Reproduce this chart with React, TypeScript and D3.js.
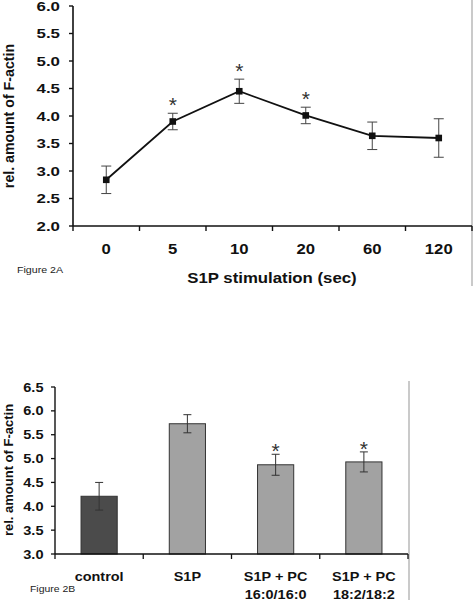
import React from "react";
import * as d3 from "d3";

// Figure 2A data
const timeLabels = ["0", "5", "10", "20", "60", "120"];
const actinMeans = [2.84, 3.9, 4.45, 4.01, 3.64, 3.6];
const actinErrors = [0.25, 0.15, 0.22, 0.15, 0.25, 0.35];
const timeSignificant = [false, true, true, true, false, false];
const yTicksA = [2.0, 2.5, 3.0, 3.5, 4.0, 4.5, 5.0, 5.5, 6.0];

// Figure 2B data
const groupLabels = [["control"], ["S1P"], ["S1P + PC", "16:0/16:0"], ["S1P + PC", "18:2/18:2"]];
const groupMeans = [4.21, 5.73, 4.87, 4.93];
const groupErrors = [0.29, 0.19, 0.22, 0.21];
const groupColors = ["#4b4b4b", "#a2a2a2", "#a2a2a2", "#a2a2a2"];
const groupSignificant = [false, false, true, true];
const yTicksB = [3.0, 3.5, 4.0, 4.5, 5.0, 5.5, 6.0, 6.5];

const FONT = "'Liberation Sans', Arial, Helvetica, sans-serif";

type TProps = {
  x: number;
  y: number;
  sx?: number;
  anchor?: "start" | "middle" | "end";
  size: number;
  bold?: boolean;
  fill?: string;
  dy?: string;
  children: React.ReactNode;
};

function T({ x, y, sx = 1, anchor = "start", size, bold = false, fill = "#111", dy, children }: TProps) {
  return (
    <text
      transform={`translate(${x},${y}) scale(${sx},1)`}
      textAnchor={anchor}
      fontSize={size}
      fontWeight={bold ? "bold" : "normal"}
      fill={fill}
      dy={dy}
    >
      {children}
    </text>
  );
}

export default function App() {
  // ---- Chart A scales ----
  const xA = d3.scaleBand<string>().domain(timeLabels).range([73, 472]);
  const yA = d3.scaleLinear().domain([2, 6]).range([226, 6]);
  const pts = actinMeans.map((v, i) => [xA(timeLabels[i])! + xA.bandwidth() / 2, yA(v)] as [number, number]);
  const lineGen = d3.line();

  // ---- Chart B scales ----
  const keysB = groupLabels.map((g) => g.join(" "));
  const xB = d3.scaleBand<string>().domain(keysB).range([55, 408]).paddingInner(0.59).paddingOuter(0.295);
  const yB = d3.scaleLinear().domain([3, 6.5]).range([554, 387]);
  const bandB = d3.scaleBand<string>().domain(keysB).range([55, 408]);

  const tickFmt = d3.format(".1f");

  return (
    <svg width={473} height={600} style={{ position: "absolute", left: 0, top: 0, background: "#fff" }} fontFamily={FONT}>
      <rect x={0} y={0} width={473} height={600} fill="#fff" />
      {/* ===== Figure 2A ===== */}
      <line x1={472} x2={472} y1={0} y2={286} stroke="#b8b8b8" strokeWidth={1.5} />
      {/* y axis */}
      <line x1={73} x2={73} y1={yA(6)} y2={yA(2)} stroke="#111" strokeWidth={1.6} />
      {yTicksA.map((t) => (
        <g key={"ya" + t}>
          <line x1={69} x2={73} y1={yA(t)} y2={yA(t)} stroke="#111" strokeWidth={1.4} />
          <T x={60} y={yA(t)} dy="0.36em" anchor="end" size={13.5} sx={1.25} bold>
            {tickFmt(t)}
          </T>
        </g>
      ))}
      {/* x axis */}
      <line x1={73} x2={472} y1={yA(2)} y2={yA(2)} stroke="#111" strokeWidth={1.6} />
      {xA.domain().map((d) => (
        <line key={"xta" + d} x1={xA(d)!} x2={xA(d)!} y1={yA(2)} y2={yA(2) + 5} stroke="#111" strokeWidth={1.4} />
      ))}
      <line x1={472} x2={472} y1={yA(2)} y2={yA(2) + 5} stroke="#111" strokeWidth={1.4} />
      {timeLabels.map((d) => (
        <T key={"xla" + d} x={xA(d)! + xA.bandwidth() / 2} y={254} anchor="middle" size={14.5} sx={1.15} bold>
          {d}
        </T>
      ))}
      <T x={272} y={283} anchor="middle" size={15} sx={1.12} bold>
        S1P stimulation (sec)
      </T>
      <T x={17} y={273} size={9.5} sx={1.12} fill="#222">
        Figure 2A
      </T>
      <text transform={`translate(14,116) rotate(-90)`} textAnchor="middle" fontSize={14.2} fontWeight="bold" fill="#111">
        rel. amount of F-actin
      </text>
      {/* error bars */}
      {actinMeans.map((v, i) => {
        const cx = pts[i][0];
        const top = yA(v + actinErrors[i]);
        const bot = yA(v - actinErrors[i]);
        return (
          <g key={"eba" + i} stroke="#444" strokeWidth={1}>
            <line x1={cx} x2={cx} y1={top} y2={bot} />
            <line x1={cx - 5} x2={cx + 5} y1={top} y2={top} />
            <line x1={cx - 5} x2={cx + 5} y1={bot} y2={bot} />
          </g>
        );
      })}
      <path d={lineGen(pts) || ""} fill="none" stroke="#111" strokeWidth={1.8} />
      {pts.map((p, i) => (
        <rect key={"mk" + i} x={p[0] - 3.3} y={p[1] - 3.3} width={6.6} height={6.6} fill="#111" />
      ))}
      {actinMeans.map((v, i) =>
        timeSignificant[i] ? (
          <text key={"sa" + i} x={pts[i][0]} y={yA(v + actinErrors[i]) - 1} textAnchor="middle" fontSize={21} fill="#333">
            *
          </text>
        ) : null
      )}

      {/* ===== Figure 2B ===== */}
      <line x1={409} x2={409} y1={381} y2={600} stroke="#b8b8b8" strokeWidth={1.5} />
      <line x1={55} x2={55} y1={yB(6.5)} y2={yB(3)} stroke="#111" strokeWidth={1.4} />
      {yTicksB.map((t) => (
        <g key={"yb" + t}>
          <line x1={51} x2={55} y1={yB(t)} y2={yB(t)} stroke="#111" strokeWidth={1.3} />
          <T x={43.5} y={yB(t)} dy="0.36em" anchor="end" size={12.8} sx={1.14} bold>
            {tickFmt(t)}
          </T>
        </g>
      ))}
      {groupMeans.map((v, i) => {
        const k = keysB[i];
        const x0 = xB(k)!;
        const w = xB.bandwidth();
        return (
          <rect key={"bar" + i} x={x0} y={yB(v)} width={w} height={yB(3) - yB(v)} fill={groupColors[i]} stroke="#333" strokeWidth={1} />
        );
      })}
      <line x1={55} x2={408} y1={yB(3)} y2={yB(3)} stroke="#111" strokeWidth={1.5} />
      {keysB.map((k) => (
        <line key={"xtb" + k} x1={bandB(k)!} x2={bandB(k)!} y1={yB(3)} y2={yB(3) + 5} stroke="#111" strokeWidth={1.3} />
      ))}
      <line x1={408} x2={408} y1={yB(3)} y2={yB(3) + 5} stroke="#111" strokeWidth={1.3} />
      {groupMeans.map((v, i) => {
        const cx = xB(keysB[i])! + xB.bandwidth() / 2;
        const top = yB(v + groupErrors[i]);
        const bot = yB(v - groupErrors[i]);
        return (
          <g key={"ebb" + i}>
            <g stroke="#333" strokeWidth={1}>
              <line x1={cx} x2={cx} y1={top} y2={bot} />
              <line x1={cx - 4} x2={cx + 4} y1={top} y2={top} />
              <line x1={cx - 4} x2={cx + 4} y1={bot} y2={bot} />
            </g>
            {groupSignificant[i] ? (
              <text x={cx} y={top + 4} textAnchor="middle" fontSize={21} fill="#333">
                *
              </text>
            ) : null}
          </g>
        );
      })}
      {groupLabels.map((lines, i) => {
        const cx = bandB(keysB[i])! + bandB.bandwidth() / 2;
        return (
          <g key={"xlb" + i}>
            {lines.map((l, j) => (
              <T key={j} x={cx} y={581 + j * 18} anchor="middle" size={13.5} sx={1.07} bold>
                {l}
              </T>
            ))}
          </g>
        );
      })}
      <T x={30} y={592} size={9.5} sx={1.1} fill="#222">
        Figure 2B
      </T>
      <text transform={`translate(13,470) rotate(-90)`} textAnchor="middle" fontSize={13} fontWeight="bold" fill="#111">
        rel. amount of F-actin
      </text>
    </svg>
  );
}
